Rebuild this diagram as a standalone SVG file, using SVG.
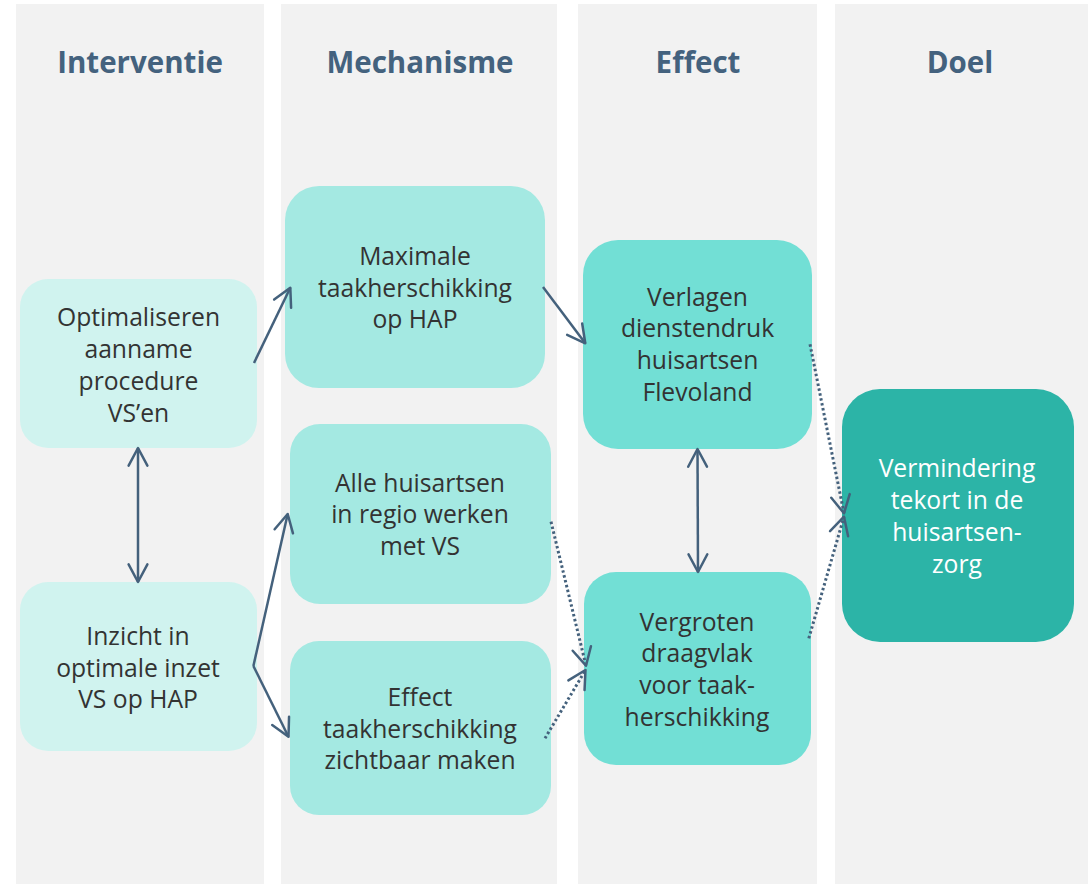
<svg xmlns="http://www.w3.org/2000/svg" width="1088" height="885" viewBox="0 0 1088 885">
  <style>
    .lane { fill: #f2f2f2; }
    .hdr { font-family: "Open Sans", "Noto Sans", sans-serif; font-weight: bold; font-size: 29.5px; fill: #44627e; text-anchor: middle; }
    .lbl { font-family: "Open Sans", "Noto Sans", sans-serif; font-size: 24.7px; fill: #333333; text-anchor: middle; }
    .lbl.w { fill: #ffffff; }
    .c1 { fill: #d0f3ef; }
    .c2 { fill: #a4e9e2; }
    .c3 { fill: #72dfd5; }
    .c4 { fill: #2cb4a7; }
    .solid { fill: none; stroke: #44617c; stroke-width: 2.5; }
    .dot { fill: none; stroke: #44617c; stroke-width: 3; stroke-dasharray: 2.5 2.5; }
  </style>
  <defs>
    <marker id="arr" markerUnits="userSpaceOnUse" viewBox="-22 -12 26 24" refX="0" refY="0" markerWidth="26" markerHeight="24" orient="auto-start-reverse" overflow="visible">
      <path d="M-17.7,-9.4 L0,0 L-17.7,9.4" fill="none" stroke="#44617c" stroke-width="2.5" stroke-linecap="round" stroke-linejoin="round"/>
    </marker>
  </defs>

  <g id="lanes">
    <rect class="lane" x="16" y="4" width="248" height="880"/>
    <rect class="lane" x="281" y="4" width="276" height="880"/>
    <rect class="lane" x="578" y="4" width="239" height="880"/>
    <rect class="lane" x="835" y="4" width="253" height="880"/>
    <text class="hdr" x="140" y="73">Interventie</text>
    <text class="hdr" x="420" y="73">Mechanisme</text>
    <text class="hdr" x="698" y="73">Effect</text>
    <text class="hdr" x="960" y="73">Doel</text>
  </g>

  <g id="n1">
    <rect class="c1" x="20" y="279" width="237" height="169" rx="28"/>
    <text class="lbl" x="138.5" y="326">Optimaliseren</text>
    <text class="lbl" x="138.5" y="358">aanname</text>
    <text class="lbl" x="138.5" y="390">procedure</text>
    <text class="lbl" x="138.5" y="422">VS’en</text>
  </g>
  <g id="n2">
    <rect class="c1" x="20" y="582" width="237" height="169" rx="28"/>
    <text class="lbl" x="138" y="645">Inzicht in</text>
    <text class="lbl" x="138" y="677">optimale inzet</text>
    <text class="lbl" x="138" y="708">VS op HAP</text>
  </g>
  <g id="n3">
    <rect class="c2" x="285" y="186" width="260" height="202" rx="34"/>
    <text class="lbl" x="415" y="265">Maximale</text>
    <text class="lbl" x="415" y="297">taakherschikking</text>
    <text class="lbl" x="415" y="328">op HAP</text>
  </g>
  <g id="n4">
    <rect class="c2" x="290" y="424" width="261" height="180" rx="30"/>
    <text class="lbl" x="420" y="492">Alle huisartsen</text>
    <text class="lbl" x="420" y="523">in regio werken</text>
    <text class="lbl" x="420" y="555">met VS</text>
  </g>
  <g id="n5">
    <rect class="c2" x="290" y="641" width="261" height="174" rx="29"/>
    <text class="lbl" x="420" y="706">Effect</text>
    <text class="lbl" x="420" y="738">taakherschikking</text>
    <text class="lbl" x="420" y="769">zichtbaar maken</text>
  </g>
  <g id="n6">
    <rect class="c3" x="583" y="240" width="229" height="209" rx="35"/>
    <text class="lbl" x="697.5" y="306">Verlagen</text>
    <text class="lbl" x="697.5" y="337">dienstendruk</text>
    <text class="lbl" x="697.5" y="369">huisartsen</text>
    <text class="lbl" x="697.5" y="401">Flevoland</text>
  </g>
  <g id="n7">
    <rect class="c3" x="584" y="572" width="227" height="193" rx="32"/>
    <text class="lbl" x="697" y="631">Vergroten</text>
    <text class="lbl" x="697" y="662">draagvlak</text>
    <text class="lbl" x="697" y="694">voor taak-</text>
    <text class="lbl" x="697" y="726">herschikking</text>
  </g>
  <g id="n8">
    <rect class="c4" x="842" y="389" width="232" height="253" rx="38"/>
    <text class="lbl w" x="957" y="477">Vermindering</text>
    <text class="lbl w" x="957" y="509">tekort in de</text>
    <text class="lbl w" x="957" y="541">huisartsen-</text>
    <text class="lbl w" x="957" y="573">zorg</text>
  </g>

  <g id="connectors">
    <line class="solid" x1="254" y1="363" x2="290.3" y2="287.7" marker-end="url(#arr)"/>
    <line class="solid" x1="543" y1="287" x2="585.3" y2="343.3" marker-end="url(#arr)"/>
    <line class="solid" x1="138" y1="448" x2="138" y2="582" marker-start="url(#arr)" marker-end="url(#arr)"/>
    <line class="solid" x1="253.4" y1="666" x2="287.7" y2="514" marker-end="url(#arr)"/>
    <line class="solid" x1="253.4" y1="666" x2="288.5" y2="736.7" marker-end="url(#arr)"/>
    <line class="solid" x1="697.5" y1="449" x2="698" y2="572" marker-start="url(#arr)" marker-end="url(#arr)"/>
    <line class="dot" x1="551" y1="521.7" x2="586" y2="665.7" marker-end="url(#arr)"/>
    <line class="dot" x1="545" y1="738.3" x2="585.5" y2="670" marker-end="url(#arr)"/>
    <line class="dot" x1="810" y1="344.3" x2="844" y2="513.3" marker-end="url(#arr)"/>
    <line class="dot" x1="808.8" y1="638.3" x2="844" y2="516.7" marker-end="url(#arr)"/>
  </g>
</svg>
